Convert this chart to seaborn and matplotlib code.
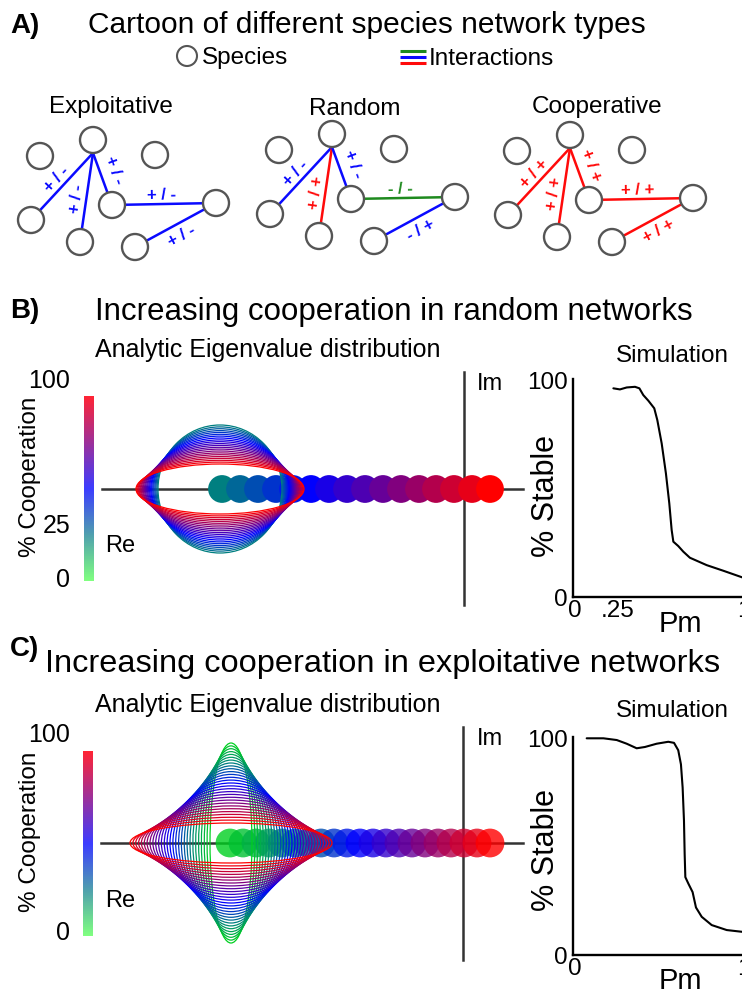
import numpy as np
import matplotlib
matplotlib.use("Agg")
import matplotlib.pyplot as plt
from matplotlib.patches import Circle, Ellipse
from matplotlib.colors import LinearSegmentedColormap, Normalize
from matplotlib.cm import ScalarMappable
import seaborn as sns

sns.set_theme(style="white")
plt.rcParams["font.family"] = ["Liberation Sans", "DejaVu Sans"]
plt.rcParams["text.color"] = "black"
plt.rcParams["xtick.color"] = "black"
plt.rcParams["ytick.color"] = "black"

W, H = 742, 994

# ---------------- cartoon networks (panel A) ----------------
network_titles = ["Exploitative", "Random", "Cooperative"]
network_hubs = [(93, 140), (332, 134), (570, 135)]
# species positions relative to the hub species
node_offsets = [(-53, 16), (0, 0), (62, 15), (-62, 80), (-13, 102), (19, 65), (123, 63), (42, 107)]
edges = [(1, 3), (1, 4), (1, 5), (5, 6), (6, 7)]
edge_signs = {
    "Exploitative": ["+ / -", "+ / -", "+ / -", "+ / -", "+ / -"],
    "Random": ["+ / -", "+ / +", "+ / -", "- / -", "- / +"],
    "Cooperative": ["+ / +", "+ / +", "+ / +", "+ / +", "+ / +"],
}
sign_colors = {"+ / -": "#0a0aff", "- / +": "#0a0aff", "+ / +": "#ff0a0a", "- / -": "#1e8a1e"}
label_offsets = [(-36, 39), (-16, 59), (21, 30), (68, 55), (89, 96)]

# ---------------- analytic eigenvalue spectra ----------------
# random networks: cooperation from 25 % to 100 %
outlier_coop_B = [25, 30, 35, 40, 45, 50, 55, 60, 65, 70, 75, 80, 85, 90, 95, 100]
outlier_re_B = [-24.2, -22.4, -20.6, -18.8, -17.1, -15.3, -13.5, -11.7, -9.9, -8.1,
                -6.3, -4.5, -2.8, -1.0, 0.8, 2.6]
bulk_centre_B = -24.4
bulk_coop_B = [25, 28.6, 32.1, 35.7, 39.3, 42.9, 46.4, 50, 53.6, 57.1, 60.7, 64.3,
               67.9, 71.4, 75, 78.6, 82.1, 85.7, 89.3, 92.9, 96.4, 100]
bulk_re_B = [6.20, 6.30, 6.41, 6.51, 6.62, 6.72, 6.83, 6.93, 7.04, 7.14, 7.25, 7.35,
             7.46, 7.56, 7.67, 7.77, 7.88, 7.98, 8.09, 8.19, 8.30, 8.40]
bulk_im_B = [6.40, 6.21, 6.03, 5.84, 5.66, 5.47, 5.29, 5.10, 4.91, 4.73, 4.54, 4.36,
             4.17, 3.99, 3.80, 3.61, 3.43, 3.24, 3.06, 2.87, 2.69, 2.50]

# exploitative networks: cooperation from 0 % to 100 %
outlier_coop_C = [0, 5, 10, 15, 20, 25, 30, 35, 40, 45, 50, 55, 60, 65, 70, 75, 80, 85, 90, 95, 100]
outlier_re_C = [-23.3, -22.0, -20.7, -19.4, -18.1, -16.8, -15.5, -14.2, -12.9, -11.6, -10.3,
                -9.0, -7.7, -6.4, -5.1, -3.8, -2.5, -1.2, 0.1, 1.4, 2.7]
bulk_centre_C = -23.2
bulk_coop_C = [0, 3.6, 7.1, 10.7, 14.3, 17.9, 21.4, 25, 28.6, 32.1, 35.7, 39.3, 42.9, 46.4,
               50, 53.6, 57.1, 60.7, 64.3, 67.9, 71.4, 75, 78.6, 82.1, 85.7, 89.3, 92.9, 96.4, 100]
bulk_re_C = [2.10, 2.39, 2.67, 2.96, 3.24, 3.53, 3.81, 4.10, 4.39, 4.67, 4.96, 5.24, 5.53, 5.81,
             6.10, 6.39, 6.67, 6.96, 7.24, 7.53, 7.81, 8.10, 8.39, 8.67, 8.96, 9.24, 9.53, 9.81, 10.10]
bulk_im_C = [10.00, 9.71, 9.43, 9.14, 8.86, 8.57, 8.29, 8.00, 7.71, 7.43, 7.14, 6.86, 6.57, 6.29,
             6.00, 5.71, 5.43, 5.14, 4.86, 4.57, 4.29, 4.00, 3.71, 3.43, 3.14, 2.86, 2.57, 2.29, 2.00]

# ---------------- simulations: % stable vs Pm ----------------
pm_B = [0.227, 0.266, 0.306, 0.355, 0.381, 0.404, 0.434, 0.469, 0.487, 0.513, 0.538, 0.558,
        0.572, 0.582, 0.611, 0.641, 0.680, 0.779, 0.878, 0.988, 1.0]
stable_B = [96.2, 95.7, 96.6, 96.9, 96.2, 93.1, 90.5, 87.0, 81.6, 70.8, 57.0, 43.2,
            30.9, 25.5, 23.5, 20.9, 18.1, 14.7, 12.1, 9.1, 8.8]
pm_C = [0.069, 0.168, 0.247, 0.306, 0.365, 0.414, 0.483, 0.552, 0.586, 0.611, 0.627, 0.637,
        0.645, 0.649, 0.653, 0.671, 0.696, 0.716, 0.750, 0.809, 0.898, 0.988, 1.0]
stable_C = [99.9, 99.9, 99.1, 97.4, 95.3, 95.9, 97.4, 98.3, 97.8, 94.4, 87.9, 77.2,
            61.9, 46.6, 35.9, 32.9, 29.0, 21.9, 17.6, 13.8, 11.5, 10.7, 10.7]

# colour scales for % cooperation
eig_cmap = LinearSegmentedColormap.from_list(
    "coop", [(0.0, "#00d020"), (0.25, "#008080"), (0.5, "#0000ff"), (1.0, "#ff0000")])
bar_cmap = LinearSegmentedColormap.from_list(
    "coop_bar", [(0.0, "#80ff80"), (0.25, "#4f9fae"), (0.5, "#3c3cff"), (1.0, "#ff2434")])

fig = plt.figure(figsize=(W / 100, H / 100), dpi=100)
fig.patch.set_facecolor("white")

# full-figure canvas in pixel units for the cartoon and the lettering
ax0 = fig.add_axes([0, 0, 1, 1])
ax0.set_xlim(0, W)
ax0.set_ylim(H, 0)
ax0.axis("off")

node_r = 13
for title, (hx, hy) in zip(network_titles, network_hubs):
    pos = [(hx + dx, hy + dy) for dx, dy in node_offsets]
    for k, (i, j) in enumerate(edges):
        x1, y1 = pos[i]
        if i == 1:
            y1 += node_r
        x2, y2 = pos[j]
        sign = edge_signs[title][k]
        col = sign_colors[sign]
        ax0.plot([x1, x2], [y1, y2], color=col, lw=1.8, solid_capstyle="butt", zorder=2)
        ang = np.degrees(np.arctan2(-(y2 - y1), x2 - x1))
        if ang > 90:
            ang -= 180
        elif ang < -90:
            ang += 180
        lx, ly = label_offsets[k]
        ax0.text(hx + lx, hy + ly, sign, color=col, fontsize=12, fontweight="bold",
                 rotation=ang, rotation_mode="anchor", ha="center", va="center")
    for (x, y) in pos:
        ax0.add_patch(Circle((x, y), node_r, fc="white", ec="#555555", lw=1.7, zorder=3))

for title, cx, base in zip(network_titles, [111, 355, 597], [113, 115, 113]):
    ax0.text(cx, base, title, fontsize=17.5, ha="center", va="baseline")

# legend of panel A
ax0.add_patch(Circle((187, 56), 10, fc="white", ec="#555555", lw=1.5))
ax0.text(202, 64, "Species", fontsize=17.5, va="baseline")
for yy, cc in zip([51, 57, 63], ["#1e8a1e", "#0a0aff", "#ff0a0a"]):
    ax0.plot([400, 426], [yy, yy], color=cc, lw=2.2, solid_capstyle="butt")
ax0.text(429, 65, "Interactions", fontsize=17.5, va="baseline")

# panel letters and headings
ax0.text(10, 33, "A)", fontsize=20, fontweight="bold", va="baseline")
ax0.text(88, 33, "Cartoon of different species network types", fontsize=21.5, va="baseline")
ax0.text(10, 318, "B)", fontsize=20, fontweight="bold", va="baseline")
ax0.text(95, 320, "Increasing cooperation in random networks", fontsize=22.5, va="baseline")
ax0.text(10, 656, "C)", fontsize=20, fontweight="bold", va="baseline")
ax0.text(45, 672, "Increasing cooperation in exploitative networks", fontsize=23.4, va="baseline")

for base_title, base_sim in [(356.7, 361.7), (712.3, 716.7)]:
    ax0.text(95, base_title, "Analytic Eigenvalue distribution", fontsize=18, va="baseline")
    ax0.text(672, base_sim, "Simulation", fontsize=17.5, ha="center", va="baseline")


def eigen_panel(rect_px, xlim, ylim, centre, re_semi, im_semi, bulk_coop,
                out_re, out_coop, size, alpha):
    l, t, r, b = rect_px
    ax = fig.add_axes([l / W, 1 - b / H, (r - l) / W, (b - t) / H])
    ax.set_facecolor("none")
    ax.set_xlim(*xlim)
    ax.set_ylim(*ylim)
    pal = {c: eig_cmap(c / 100) for c in out_coop}
    sns.scatterplot(x=out_re, y=[0.0] * len(out_re), hue=out_coop, palette=pal,
                    s=size, linewidth=0, alpha=alpha, legend=False, ax=ax,
                    zorder=2, clip_on=False)
    for a_, b_, c_ in zip(re_semi, im_semi, bulk_coop):
        ax.add_patch(Ellipse((centre, 0), 2 * a_, 2 * b_, fill=False,
                             ec=eig_cmap(c_ / 100), lw=0.9, zorder=3))
    for s in ["top", "right"]:
        ax.spines[s].set_visible(False)
    ax.spines["left"].set_position(("data", 0))
    ax.spines["bottom"].set_position(("data", 0))
    for s in ["left", "bottom"]:
        ax.spines[s].set_color("#333333")
        ax.spines[s].set_linewidth(1.8)
        ax.spines[s].set_zorder(1)
    ax.set_xticks([])
    ax.set_yticks([])
    ax.set_xlabel("")
    ax.set_ylabel("")
    return ax


eigen_panel((102, 372, 523, 605), (-36.2, 5.9), (-11.6, 11.7), bulk_centre_B,
            bulk_re_B, bulk_im_B, bulk_coop_B, outlier_re_B, outlier_coop_B, 400, 1.0)
eigen_panel((101, 727, 523, 960), (-36.2, 6.0), (-11.7, 11.6), bulk_centre_C,
            bulk_re_C, bulk_im_C, bulk_coop_C, outlier_re_C, outlier_coop_C, 430, 0.8)

# colour bars for % cooperation
for (l, t, r, b), lab_y in [((84, 396, 94, 581), (388.3, 533.3, 586.7)),
                            ((83, 751, 93, 936), (741.7, None, 940))]:
    cax = fig.add_axes([l / W, 1 - b / H, (r - l) / W, (b - t) / H])
    cb = fig.colorbar(ScalarMappable(norm=Normalize(0, 100), cmap=bar_cmap), cax=cax)
    cb.outline.set_visible(False)
    cax.set_yticks([])
    for txt, yy in zip(["100", "25", "0"], lab_y):
        if yy is not None:
            ax0.text(70, yy, txt, fontsize=18, ha="right", va="baseline")
    ax0.text(30, (t + b) / 2 - 12, "% Cooperation", fontsize=17.5, rotation=90,
             ha="center", va="center")

for re_base, im_base in [(551.7, 390), (906.7, 745)]:
    ax0.text(105, re_base, "Re", fontsize=17, va="baseline")
    ax0.text(477, im_base, "Im", fontsize=17, va="baseline")


def sim_panel(top_px, bottom_px, pm, stable, xticks, xticklabels):
    ax = fig.add_axes([573 / W, 1 - bottom_px / H, (760 - 573) / W, (bottom_px - top_px) / H])
    ax.set_facecolor("none")
    sns.lineplot(x=pm, y=stable, ax=ax, color="black", lw=1.5, estimator=None, sort=False)
    ax.set_xlim(-0.012, 1.095)
    ax.set_ylim(0, 100.5)
    ax.set_xticks(xticks, xticklabels)
    ax.set_yticks([0, 100], ["0", "100"])
    ax.tick_params(axis="both", length=0, labelsize=17.5, colors="black")
    ax.tick_params(axis="y", pad=4)
    ax.tick_params(axis="x", pad=2)
    for s in ["top", "right"]:
        ax.spines[s].set_visible(False)
    for s in ["left", "bottom"]:
        ax.spines[s].set_color("black")
        ax.spines[s].set_linewidth(1.7)
    ax.set_xlabel("")
    ax.set_ylabel("")
    return ax


sim_panel(379, 597, pm_B, stable_B, [0, 0.25, 1], ["0", ".25", "1"])
sim_panel(737, 955, pm_C, stable_C, [0, 1], ["0", "1"])

for pm_base, st_y in [(631.7, 496), (989, 850)]:
    ax0.text(680, pm_base, "Pm", fontsize=21, ha="center", va="baseline")
    ax0.text(546, st_y, "% Stable", fontsize=22, rotation=90, ha="center", va="center")

fig.savefig("out.png", dpi=100)
